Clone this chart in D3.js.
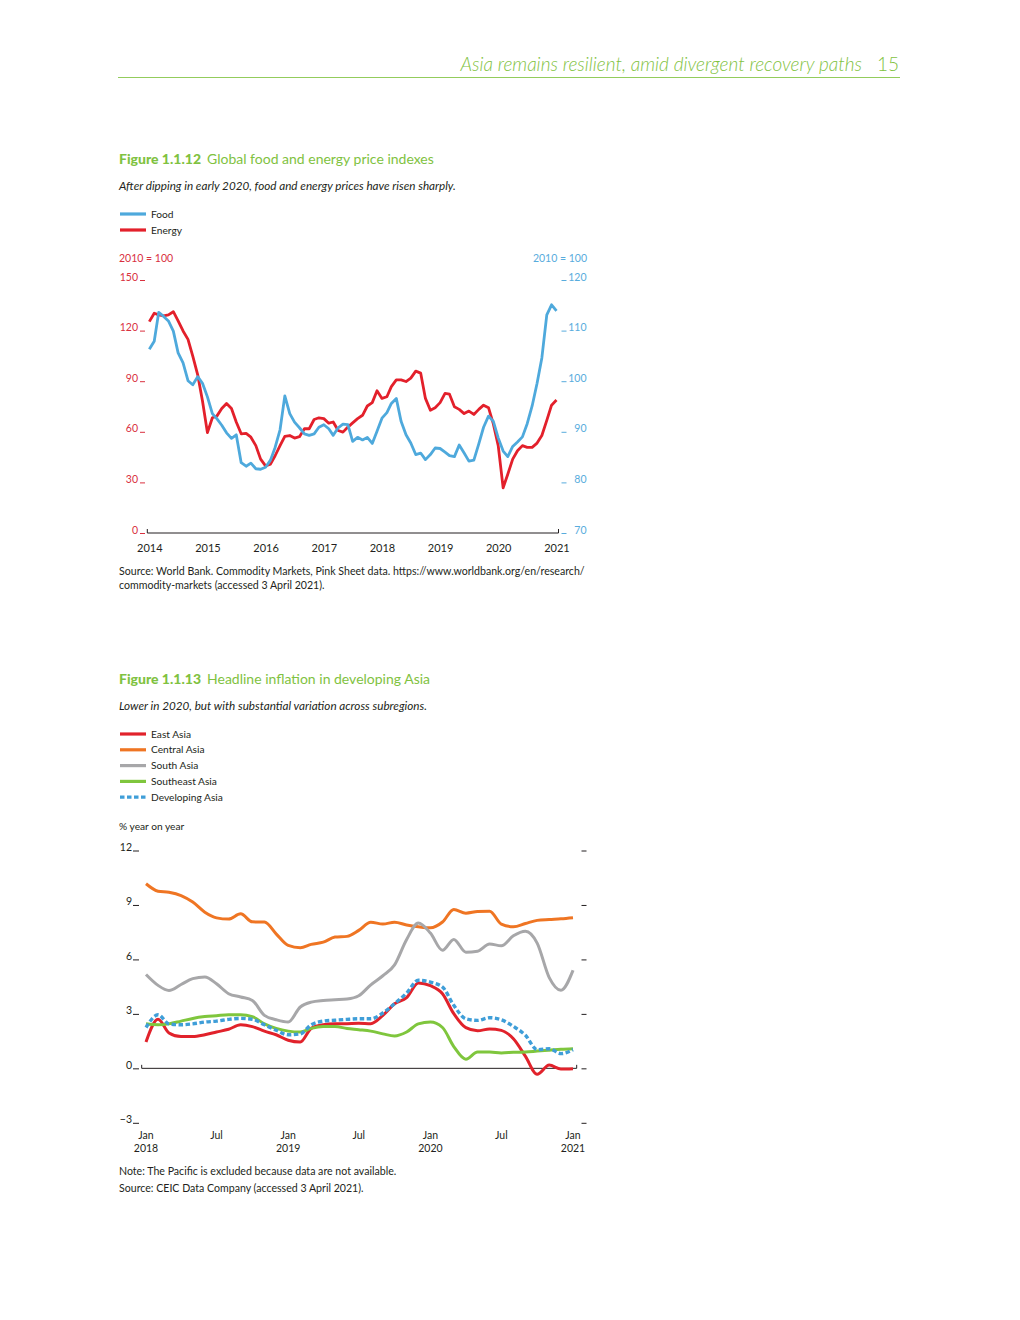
<!DOCTYPE html>
<html>
<head>
<meta charset="utf-8">
<script src="https://cdn.jsdelivr.net/npm/d3@7"></script>
<style>
  body { margin: 0; background: #fff; }
  svg { display: block; font-family: Lato, "Open Sans", sans-serif; }
</style>
</head>
<body>
<svg id="page" width="1020" height="1320"></svg>
<script>
// Figure 1.1.12 - monthly, Jan 2014 to Jan 2021, 2010 = 100
const energyIndex = [
  125.3, 130.3, 129.3, 128.8, 129.3, 131.2, 125.8, 119.8, 114.8, 104.8, 93.8, 78.3,
  59.5, 68.3, 69.3, 73.8, 76.8, 73.8, 65.8, 58.8, 59.1, 56.8, 51.8, 43.8,
  39.8, 40.8, 45.8, 51.8, 57.3, 57.8, 56.3, 57.1, 61.8, 61.8, 67.3, 68.3,
  67.8, 65.1, 65.8, 60.8, 59.8, 62.8, 65.3, 67.8, 69.8, 75.3, 77.3, 84.3,
  79.8, 80.8, 86.8, 90.8, 90.8, 89.8, 91.8, 96.0, 94.8, 79.8, 72.8, 74.3,
  77.3, 82.8, 82.3, 74.8, 73.3, 70.8, 72.3, 70.3, 73.3, 75.8, 74.3, 64.8,
  51.8, 26.8, 34.8, 43.8, 48.8, 51.8, 50.8, 50.8, 53.3, 57.8, 66.8, 75.8,
  78.8
];
const foodIndex = [
  106.3, 107.9, 113.6, 112.8, 111.9, 109.9, 105.6, 103.6, 100.1, 99.3, 100.9, 99.6,
  96.9, 93.6, 92.6, 91.3, 89.8, 88.7, 89.4, 83.9, 83.2, 83.8, 82.7, 82.6,
  83.0, 84.4, 86.9, 90.4, 97.1, 93.6, 91.9, 90.8, 89.6, 89.3, 89.6, 90.9,
  91.4, 90.6, 89.3, 90.8, 91.5, 91.4, 88.1, 88.9, 88.4, 88.9, 87.7, 90.1,
  92.7, 93.8, 95.6, 96.6, 92.1, 89.4, 87.8, 85.5, 85.8, 84.5, 85.5, 86.8,
  86.7, 86.0, 85.3, 85.1, 87.4, 85.8, 84.2, 84.4, 87.6, 90.9, 93.1, 92.1,
  88.8, 86.2, 85.1, 87.1, 88.0, 89.0, 91.6, 95.1, 99.6, 104.6, 113.1, 115.1,
  113.9
];
const priceYears = [2014, 2015, 2016, 2017, 2018, 2019, 2020, 2021];
const energyTicks = [0, 30, 60, 90, 120, 150];
const foodTicks = [70, 80, 90, 100, 110, 120];

// Figure 1.1.13 - monthly, Jan 2018 to Jan 2021, % year on year
const eastAsia = [
  1.45, 2.7, 1.95, 1.75, 1.75, 1.85, 2.0, 2.15, 2.4, 2.3, 2.05, 1.85,
  1.55, 1.45, 2.2, 2.4, 2.45, 2.46, 2.48, 2.46, 2.92, 3.56, 3.89, 4.7,
  4.55, 4.11, 3.01, 2.24, 2.07, 2.17, 2.09, 1.63, 0.66, -0.33, 0.18, -0.04,
  -0.02
];
const centralAsia = [
  10.17, 9.76, 9.7, 9.52, 9.16, 8.6, 8.29, 8.22, 8.51, 8.07, 8.06, 7.41,
  6.77, 6.64, 6.83, 6.95, 7.23, 7.27, 7.6, 8.05, 7.95, 8.05, 7.9, 7.8,
  7.74, 8.06, 8.75, 8.55, 8.64, 8.66, 7.95, 7.8, 7.98, 8.15, 8.2, 8.24,
  8.3
];
const southAsia = [
  5.17, 4.57, 4.29, 4.62, 4.94, 5.03, 4.66, 4.11, 3.93, 3.74, 2.92, 2.68,
  2.55, 3.38, 3.65, 3.74, 3.78, 3.82, 4.0, 4.6, 5.1, 5.7, 7.1, 8.0,
  7.45, 6.5, 7.1, 6.4, 6.45, 6.85, 6.75, 7.3, 7.55, 6.9, 5.0, 4.3,
  5.4
];
const southeastAsia = [
  2.45, 2.4, 2.45, 2.6, 2.75, 2.85, 2.9, 2.95, 2.95, 2.85, 2.45, 2.2,
  2.05, 2.0, 2.2, 2.3, 2.3, 2.2, 2.13, 2.05, 1.9, 1.78, 2.0, 2.45,
  2.55, 2.25, 1.2, 0.5, 0.9, 0.9, 0.85, 0.88, 0.9, 0.95, 1.0, 1.05,
  1.08
];
const developingAsia = [
  2.25, 2.95, 2.45, 2.4, 2.45, 2.55, 2.6, 2.7, 2.75, 2.7, 2.4, 2.1,
  1.85, 1.9, 2.4, 2.6, 2.65, 2.7, 2.73, 2.73, 3.05, 3.56, 4.15, 4.85,
  4.75, 4.48, 3.47, 2.73, 2.64, 2.79, 2.68, 2.31, 1.82, 1.03, 1.08, 0.81,
  1.03
];
const inflationTicks = [-3, 0, 3, 6, 9, 12];
const monthLabels = ["Jan", "Jul", "Jan", "Jul", "Jan", "Jul", "Jan"];
const yearLabels = ["2018", "", "2019", "", "2020", "", "2021"];

const green = "#7fc241";
const ink = "#231f20";
const svg = d3.select("#page");

// page header
svg.append("text")
  .attr("x", 862).attr("y", 71)
  .attr("text-anchor", "end")
  .attr("fill", green)
  .attr("style", "font-size: 19px; font-style: italic; font-weight: 300;")
  .text("Asia remains resilient, amid divergent recovery paths");
svg.append("text")
  .attr("x", 899).attr("y", 71)
  .attr("text-anchor", "end")
  .attr("fill", green)
  .attr("style", "font-size: 19px; font-weight: 300;")
  .text("15");
svg.append("line")
  .attr("x1", 118).attr("x2", 900).attr("y1", 77.5).attr("y2", 77.5)
  .attr("stroke", "#93cc5c").attr("stroke-width", 1);

function title(y, num, name, sub) {
  const t = svg.append("text").attr("x", 119).attr("y", y)
    .attr("fill", green).attr("style", "font-size: 14px;");
  t.append("tspan").attr("font-weight", "900").text(num);
  t.append("tspan").attr("dx", 6).text(name);
  svg.append("text").attr("x", 119).attr("y", y + 26)
    .attr("fill", ink).attr("style", "font-size: 11.7px; font-style: italic;")
    .text(sub);
}

function legend(items, y0) {
  items.forEach((d, i) => {
    const y = y0 + i * d.step;
    svg.append("line")
      .attr("x1", 120).attr("x2", 146).attr("y1", y).attr("y2", y)
      .attr("stroke", d.color).attr("stroke-width", 3.2)
      .attr("stroke-dasharray", d.dash || null);
    svg.append("text").attr("x", 151).attr("y", y + 3.5)
      .attr("fill", ink).attr("style", "font-size: 10.2px;")
      .text(d.name);
  });
}

function note(lines, y0, step) {
  lines.forEach((s, i) => {
    svg.append("text").attr("x", 119).attr("y", y0 + i * step)
      .attr("fill", ink).attr("style", "font-size: 10.6px;")
      .text(s);
  });
}

// ---------------- Figure 1.1.12 ----------------
title(164, "Figure 1.1.12", "Global food and energy price indexes",
  "After dipping in early 2020, food and energy prices have risen sharply.");
legend([
  { name: "Food", color: "#4ea9dc", step: 16 },
  { name: "Energy", color: "#e3202b", step: 16 },
], 214);

const energyRed = "#d9303f";
const foodBlue = "#58acdd";
svg.append("text").attr("x", 119).attr("y", 262)
  .attr("fill", energyRed).attr("style", "font-size: 10.5px;").text("2010 = 100");
svg.append("text").attr("x", 587).attr("y", 262).attr("text-anchor", "end")
  .attr("fill", foodBlue).attr("style", "font-size: 10.5px;").text("2010 = 100");

const priceMonths = d3.timeMonth.range(new Date(2014, 0, 1), new Date(2021, 1, 1));
const x1 = d3.scaleTime()
  .domain([new Date(2014, 0, 1), new Date(2021, 0, 1)])
  .range([149.3, 556.5]);
const yEnergy = d3.scaleLinear().domain([0, 150]).range([533, 280]);
const yFood = d3.scaleLinear().domain([70, 120]).range([533, 280]);

const leftAxis = svg.append("g").attr("transform", "translate(145,0)")
  .call(d3.axisLeft(yEnergy).tickValues(energyTicks).tickSize(5).tickPadding(2));
leftAxis.select(".domain").remove();
leftAxis.selectAll("line").attr("stroke", energyRed);
leftAxis.selectAll("text").attr("dy", 0).attr("fill", energyRed)
  .attr("style", "font-size: 10.5px; font-family: Lato, sans-serif;");

const rightAxis = svg.append("g").attr("transform", "translate(561.5,0)")
  .call(d3.axisRight(yFood).tickValues(foodTicks).tickSize(5));
rightAxis.select(".domain").remove();
rightAxis.selectAll("line").attr("stroke", foodBlue);
rightAxis.selectAll("text").attr("dy", 0).attr("x", 25).attr("text-anchor", "end")
  .attr("fill", foodBlue)
  .attr("style", "font-size: 10.5px; font-family: Lato, sans-serif;");

// base line with little end ticks
const [bx0, bx1] = x1.range();
svg.append("path")
  .attr("d", `M${bx0 - 2},${yEnergy(0) - 4}V${yEnergy(0)}H${bx1 + 2}V${yEnergy(0) - 4}`)
  .attr("fill", "none").attr("stroke", ink).attr("stroke-width", 1);

const bottom1 = svg.append("g").attr("transform", `translate(0,${yEnergy(0)})`)
  .call(d3.axisBottom(x1).tickValues(priceYears.map(y => new Date(y, 0, 1)))
    .tickFormat(d3.timeFormat("%Y")).tickSize(0).tickPadding(11));
bottom1.select(".domain").remove();
bottom1.selectAll("text").attr("fill", ink)
  .attr("style", "font-size: 11px; font-family: Lato, sans-serif;");

const priceLine = (scale) => d3.line()
  .x((d, i) => x1(priceMonths[i]))
  .y(d => scale(d));

svg.append("path").datum(energyIndex)
  .attr("d", priceLine(yEnergy))
  .attr("fill", "none").attr("stroke", "#e3202b").attr("stroke-width", 2.8)
  .attr("stroke-linejoin", "round");
svg.append("path").datum(foodIndex)
  .attr("d", priceLine(yFood))
  .attr("fill", "none").attr("stroke", "#4ea9dc").attr("stroke-width", 2.8)
  .attr("stroke-linejoin", "round");

note([
  "Source: World Bank. Commodity Markets, Pink Sheet data. https://www.worldbank.org/en/research/",
  "commodity-markets (accessed 3 April 2021).",
], 575, 14);

// ---------------- Figure 1.1.13 ----------------
title(684, "Figure 1.1.13", "Headline inflation in developing Asia",
  "Lower in 2020, but with substantial variation across subregions.");

const series = [
  { name: "East Asia", color: "#e1222b", values: eastAsia },
  { name: "Central Asia", color: "#ef7523", values: centralAsia },
  { name: "South Asia", color: "#a7a7a9", values: southAsia },
  { name: "Southeast Asia", color: "#7fc63d", values: southeastAsia },
  { name: "Developing Asia", color: "#3f9ed8", values: developingAsia, dash: "4.5,2.5" },
];
legend(series.map(s => ({ name: s.name, color: s.color, dash: s.dash, step: 15.8 })), 734);

svg.append("text").attr("x", 119).attr("y", 830)
  .attr("fill", ink).attr("style", "font-size: 10.2px;").text("% year on year");

const inflMonths = d3.timeMonth.range(new Date(2018, 0, 1), new Date(2021, 1, 1));
const x2 = d3.scaleTime()
  .domain([new Date(2018, 0, 1), new Date(2021, 0, 1)])
  .range([146, 573]);
const y2 = d3.scaleLinear().domain([-3, 12]).range([1122.8, 850.5]);

const left2 = svg.append("g").attr("transform", "translate(139,0)")
  .call(d3.axisLeft(y2).tickValues(inflationTicks).tickSize(6).tickPadding(1)
    .tickFormat(d => d < 0 ? "\u2212" + Math.abs(d) : d));
left2.select(".domain").remove();
left2.selectAll("line").attr("stroke", ink);
left2.selectAll("text").attr("dy", 0).attr("fill", ink)
  .attr("style", "font-size: 10.5px; font-family: Lato, sans-serif;");

const right2 = svg.append("g").attr("transform", "translate(581.5,0)")
  .call(d3.axisRight(y2).tickValues(inflationTicks).tickSize(5).tickFormat(""));
right2.select(".domain").remove();
right2.selectAll("line").attr("stroke", ink);

svg.append("path")
  .attr("d", `M141.7,${y2(0) - 3.5}V${y2(0)}H576.7V${y2(0) - 3.5}`)
  .attr("fill", "none").attr("stroke", ink).attr("stroke-width", 1);

const tickDates = d3.timeMonth.every(6).range(new Date(2018, 0, 1), new Date(2021, 1, 1));
const xlab = svg.append("g");
tickDates.forEach((d, i) => {
  const t = xlab.append("text").attr("x", x2(d)).attr("y", 1139)
    .attr("text-anchor", "middle").attr("fill", ink)
    .attr("style", "font-size: 10.5px;");
  t.append("tspan").attr("x", x2(d)).text(monthLabels[i]);
  t.append("tspan").attr("x", x2(d)).attr("dy", 13).text(yearLabels[i]);
});

const inflLine = d3.line()
  .x((d, i) => x2(inflMonths[i]))
  .y(d => y2(d))
  .curve(d3.curveMonotoneX);

series.forEach(s => {
  svg.append("path").datum(s.values)
    .attr("d", inflLine)
    .attr("fill", "none").attr("stroke", s.color)
    .attr("stroke-width", s.dash ? 3.4 : 3)
    .attr("stroke-dasharray", s.dash || null)
    .attr("stroke-linejoin", "round");
});

note([
  "Note: The Pacific is excluded because data are not available.",
  "Source: CEIC Data Company (accessed 3 April 2021).",
], 1175, 17);
</script>
</body>
</html>
